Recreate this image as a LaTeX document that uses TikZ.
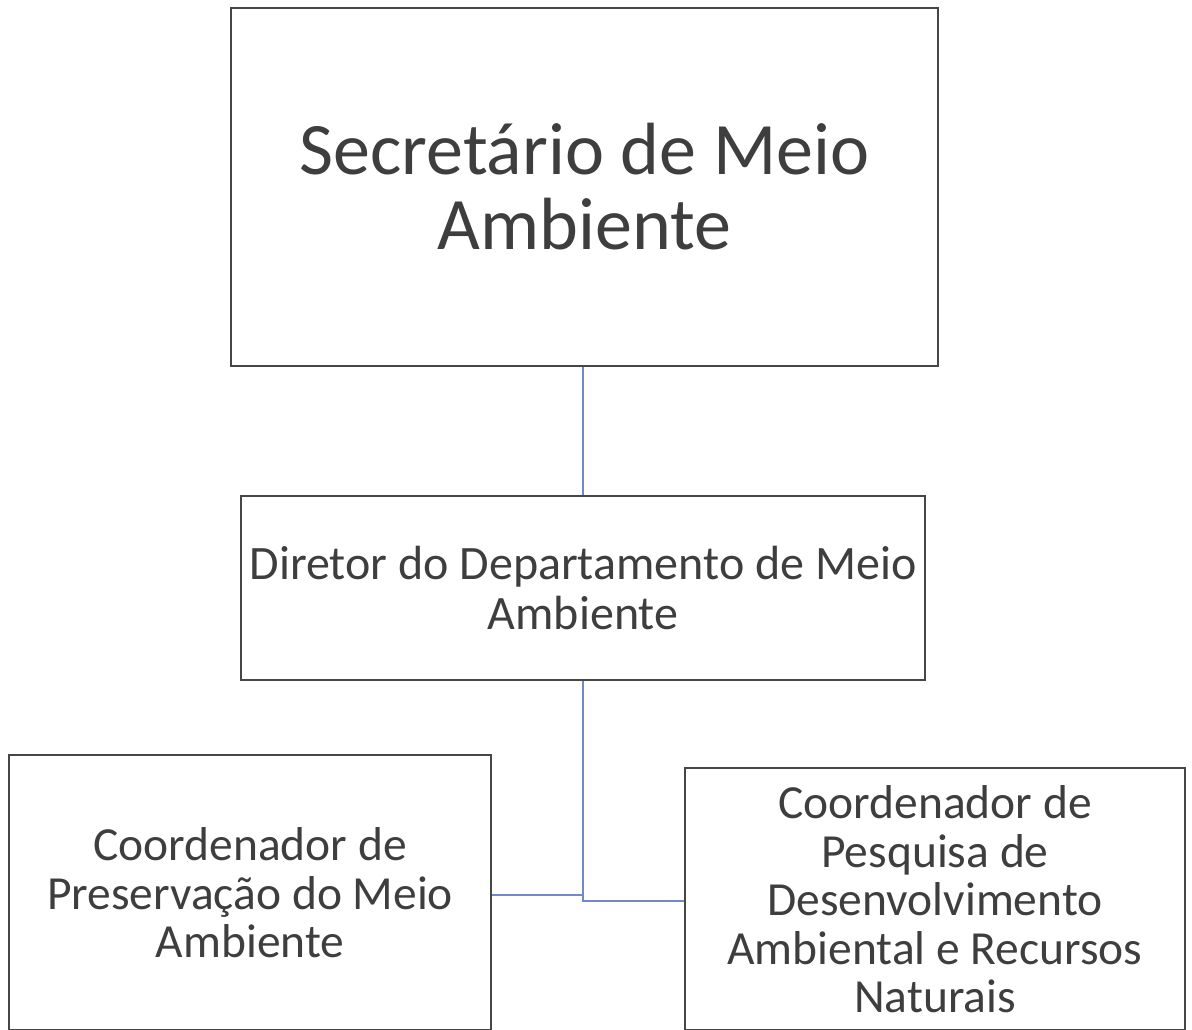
\documentclass[tikz,border=0pt]{standalone}
\usepackage{fontspec}
\setmainfont{Carlito}
\usepackage{xcolor}
\usetikzlibrary{positioning}

\definecolor{boxgray}{RGB}{70,70,70}
\definecolor{textgray}{RGB}{62,62,62}
\definecolor{linkblue}{RGB}{115,135,205}

\begin{document}
\begin{tikzpicture}[x=1pt, y=-1pt]

\tikzset
  {
    orgBox/.style=    {draw=boxgray, line width=2.6pt, text=textgray, align=center, inner sep=0pt},
    bigText/.style=   {font=\fontsize{74}{75}\selectfont},
    midText/.style=   {font=\fontsize{48}{50}\selectfont},
    lowText/.style=   {font=\fontsize{47.5}{48.5}\selectfont},
    orgLink/.style=   {draw=linkblue, line width=1.4pt}
  }

\useasboundingbox (0,0) rectangle (1192,1030);

% boxes
\node[orgBox, bigText, minimum width=707pt, minimum height=358pt] (sec) at (584.5,187)
{Secretário de Meio\\Ambiente};

\node[orgBox, midText, minimum width=684pt, minimum height=184pt] (dir) at (583,588)
{Diretor do Departamento de Meio\\Ambiente};

\node[orgBox, lowText, minimum width=482pt, minimum height=275.5pt] (pres) at (250,892.75)
{Coordenador de\\Preservação do Meio\\Ambiente};

\node[orgBox, lowText, minimum width=500pt, minimum height=262.5pt] (pesq) at (935,899.25)
{Coordenador de\\Pesquisa de\\Desenvolvimento\\Ambiental e Recursos\\Naturais};

% links
\coordinate (jl) at (583,895);
\coordinate (jr) at (583,901);

\draw[orgLink] (sec.south -| dir.north) -- (dir.north);
\draw[orgLink] (dir.south) -- (jr) -- (pesq.west |- jr);
\draw[orgLink] (pres.east |- jl) -- (jl);

\end{tikzpicture}
\end{document}
